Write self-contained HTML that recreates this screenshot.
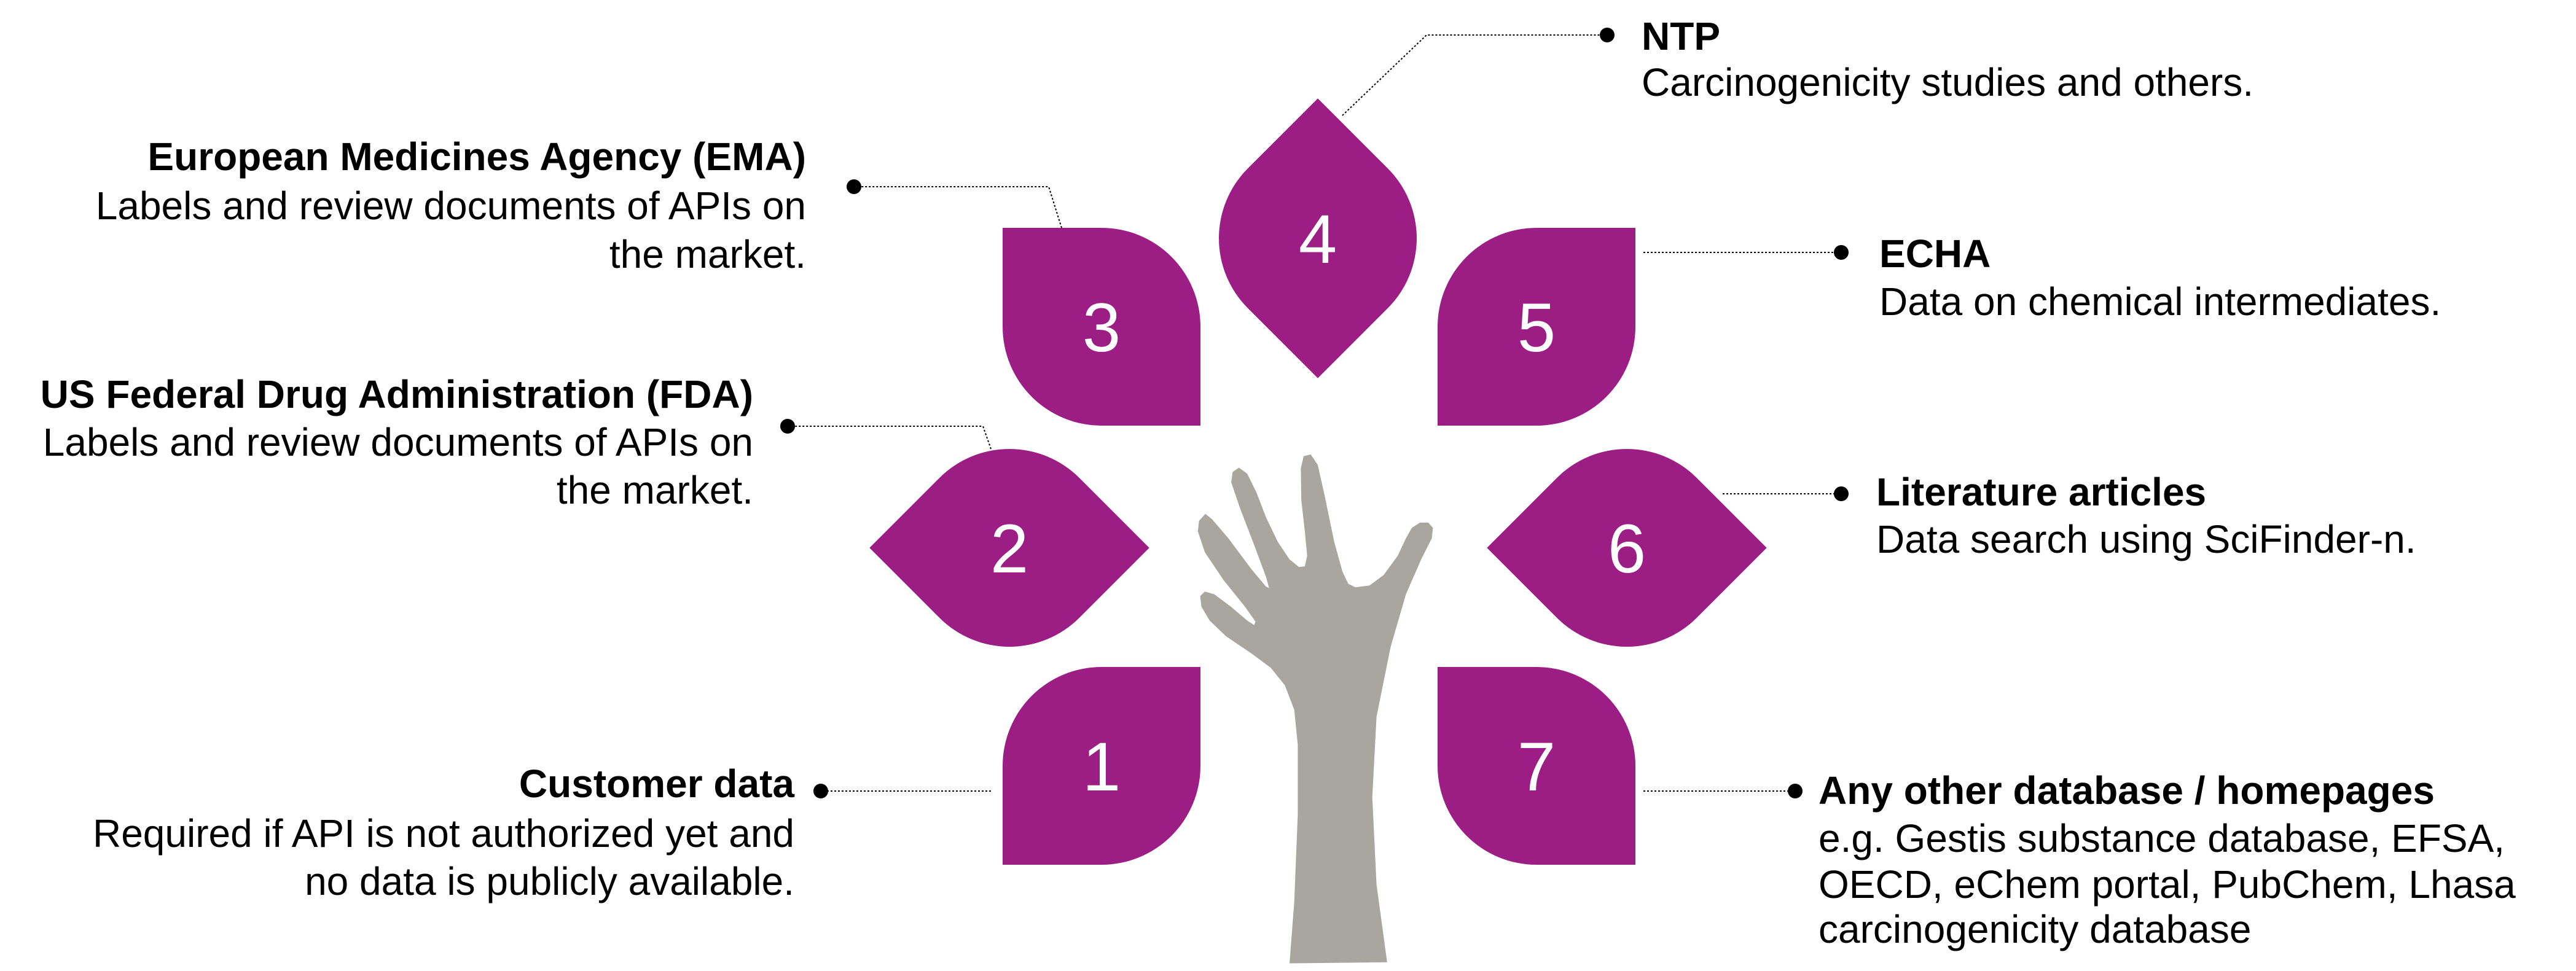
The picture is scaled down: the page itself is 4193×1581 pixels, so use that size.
<!DOCTYPE html>
<html><head><meta charset="utf-8"><style>
html,body{margin:0;padding:0;background:#fff;}
svg{display:block;}
text{font-family:"Liberation Sans",Arial,sans-serif;}
.h{font-weight:bold;font-size:64px;fill:#000;}
.t{font-size:64px;fill:#000;}
.n{font-size:112px;fill:#fff;text-anchor:middle;}
.c{stroke:#000;stroke-width:2;stroke-dasharray:3 3;fill:none;}
</style></head><body>
<svg width="4193" height="1581" viewBox="0 0 4193 1581" xmlns="http://www.w3.org/2000/svg">
<defs>
<path id="lf" d="M-161,-161 H0 A161,161 0 0 1 161,0 V161 H0 A161,161 0 0 1 -161,0 Z" fill="#9c1e84"/>
</defs>
<use href="#lf" transform="translate(1793,532)"/>
<use href="#lf" transform="translate(2501,532) scale(-1,1)"/>
<use href="#lf" transform="translate(1793,1247) scale(-1,1)"/>
<use href="#lf" transform="translate(2501,1247)"/>
<use href="#lf" transform="translate(2145,388) rotate(45)"/>
<use href="#lf" transform="translate(1643,892) rotate(-45)"/>
<use href="#lf" transform="translate(2648,892) rotate(-45)"/>
<text class="n" x="1793" y="572">3</text>
<text class="n" x="2501" y="572">5</text>
<text class="n" x="1793" y="1287">1</text>
<text class="n" x="2501" y="1287">7</text>
<text class="n" x="2145" y="428">4</text>
<text class="n" x="1643" y="932">2</text>
<text class="n" x="2648" y="932">6</text>
<g transform="translate(1900,700) scale(0.3827,0.5695)">
<path fill="#a9a59f" d="M520,1525 L935,1522 L890,1300 L872,1050 L890,820 L950,620 L1015,470 L1080,370 L1125,310 L1130,280 L1110,265 L1075,265 L1040,280 L1015,310 L980,360 L920,415 L860,445 L800,450 L770,440 L745,405 L710,320 L670,190 L640,100 L610,70 L580,75 L568,110 L570,200 L585,290 L595,360 L585,390 L560,392 L520,370 L470,320 L420,250 L380,180 L340,125 L305,108 L278,120 L272,150 L310,225 L370,330 L420,420 L433,452 L420,448 L360,400 L260,310 L190,255 L162,240 L135,260 L130,290 L160,350 L240,430 L330,505 L375,548 L370,558 L340,545 L270,505 L200,470 L160,462 L140,475 L145,505 L180,545 L250,590 L360,640 L440,680 L500,730 L540,800 L555,900 L555,1100 L540,1350 Z"/>
</g>
<polyline class="c" points="2185,188 2322,57 2616,57"/>
<circle cx="2616" cy="57" r="12"/>
<polyline class="c" points="1728,371 1707,304 1390,304"/>
<circle cx="1390" cy="304" r="12"/>
<polyline class="c" points="1613,731 1600,694 1282,694"/>
<circle cx="1282" cy="694" r="12"/>
<polyline class="c" points="1613,1288 1336,1288"/>
<circle cx="1336" cy="1288" r="12"/>
<polyline class="c" points="2675,411 2997,411"/>
<circle cx="2997" cy="411" r="12"/>
<polyline class="c" points="2804,804 2997,804"/>
<circle cx="2997" cy="804" r="12"/>
<polyline class="c" points="2675,1288 2922,1288"/>
<circle cx="2922" cy="1288" r="12"/>
<g text-anchor="end">
<text class="h" x="1312" y="277">European Medicines Agency (EMA)</text>
<text class="t" x="1312" y="357">Labels and review documents of APIs on</text>
<text class="t" x="1312" y="436">the market.</text>
<text class="h" x="1226" y="664">US Federal Drug Administration (FDA)</text>
<text class="t" x="1226" y="742">Labels and review documents of APIs on</text>
<text class="t" x="1226" y="820">the market.</text>
<text class="h" x="1293" y="1298">Customer data</text>
<text class="t" x="1293" y="1379">Required if API is not authorized yet and</text>
<text class="t" x="1293" y="1457">no data is publicly available.</text>
</g>
<text class="h" x="2672" y="81">NTP</text>
<text class="t" x="2672" y="156">Carcinogenicity studies and others.</text>
<text class="h" x="3059" y="435">ECHA</text>
<text class="t" x="3059" y="513">Data on chemical intermediates.</text>
<text class="h" x="3054" y="823">Literature articles</text>
<text class="t" x="3054" y="900">Data search using SciFinder-n.</text>
<text class="h" x="2960" y="1309">Any other database / homepages</text>
<text class="t" x="2960" y="1387">e.g. Gestis substance database, EFSA,</text>
<text class="t" x="2960" y="1462">OECD, eChem portal, PubChem, Lhasa</text>
<text class="t" x="2960" y="1535">carcinogenicity database</text>
</svg>
</body></html>
